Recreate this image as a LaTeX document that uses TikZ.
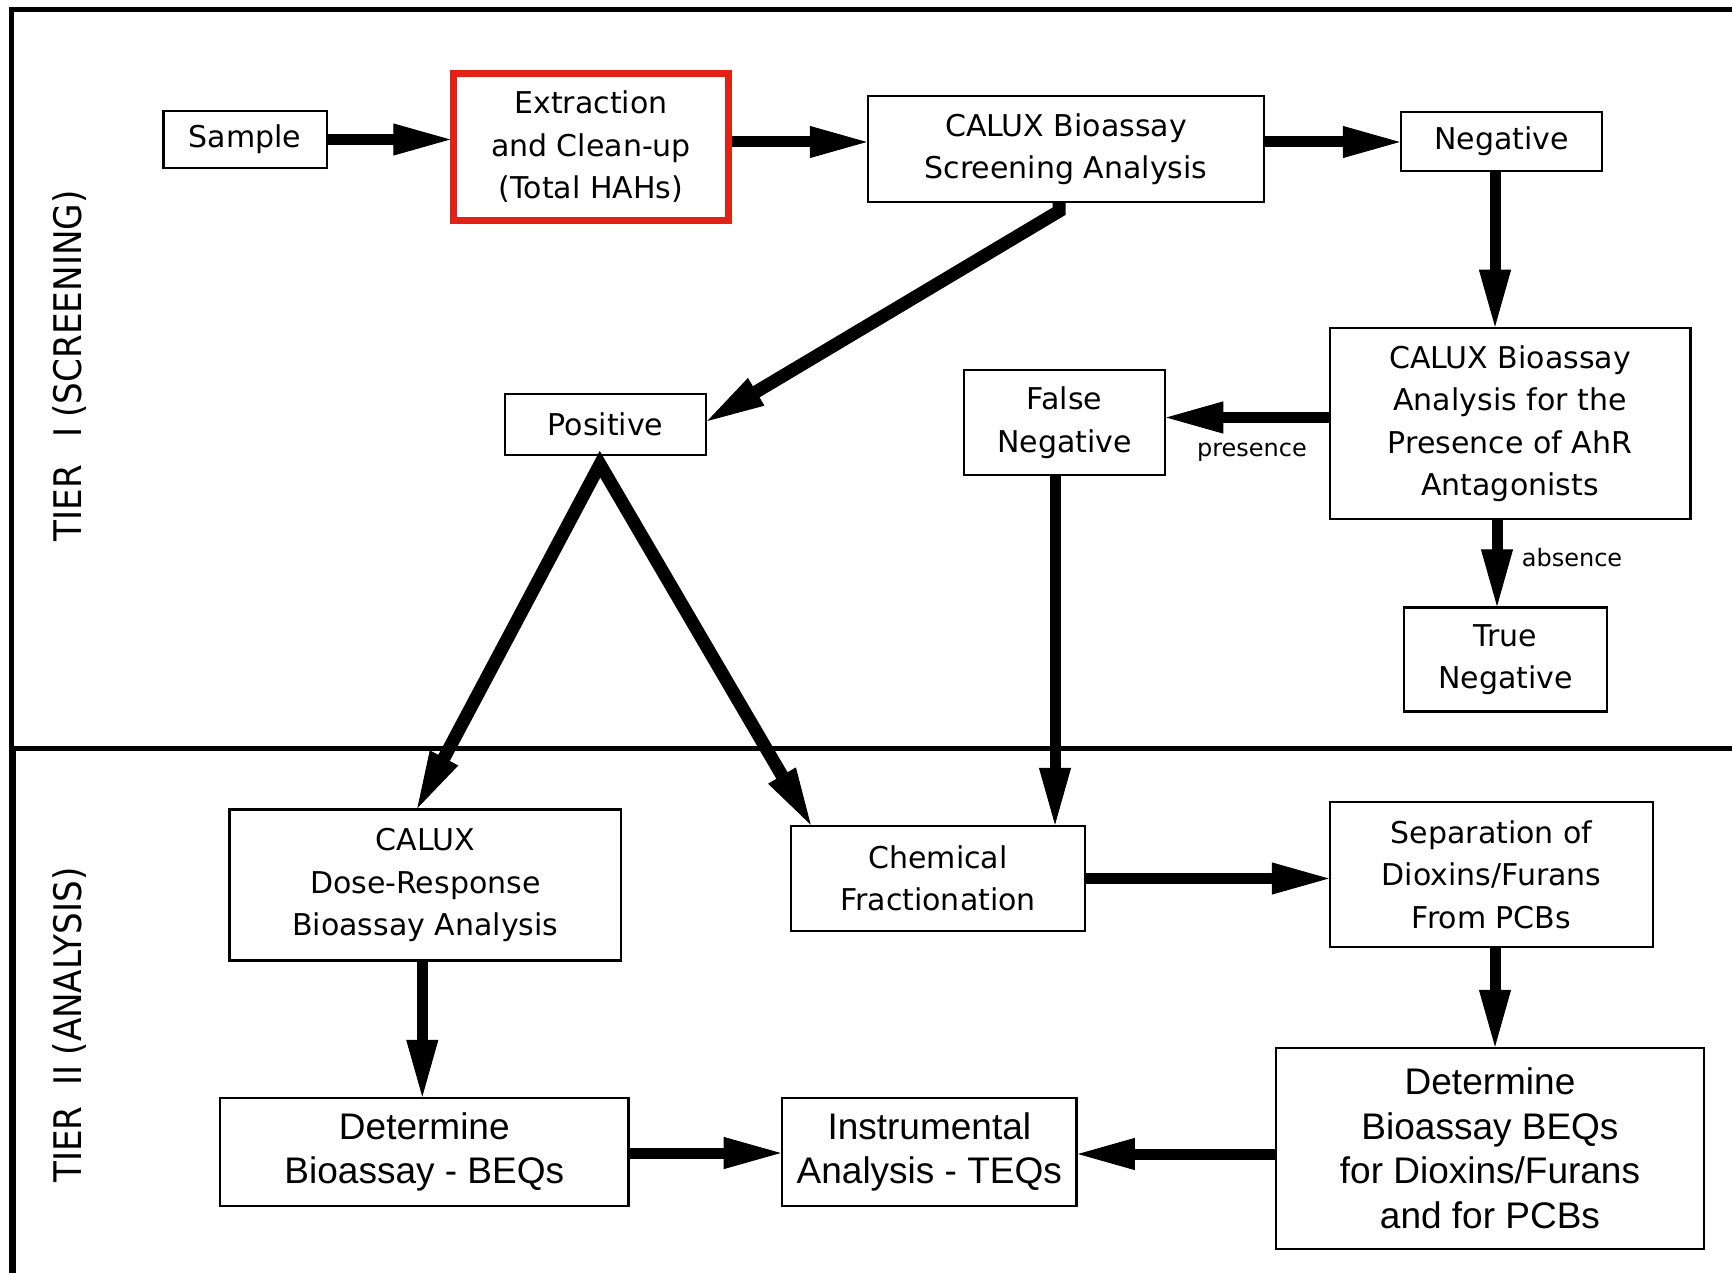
\documentclass[tikz,border=0pt]{standalone}
\usepackage{fontspec}
\setmainfont{DejaVu Sans}
\newfontfamily\hv{Liberation Sans}
\usetikzlibrary{arrows.meta,calc}
\definecolor{extred}{RGB}{225,34,20}
\begin{document}
\begin{tikzpicture}[x=1pt,y=-1pt,
  box/.style={draw, line width=2.5pt, align=center, inner sep=0pt, font=\fontsize{30}{42.5}\selectfont},
  hbox/.style={box, font=\hv\fontsize{37}{44.5}\selectfont},
  arr/.style={line width=11pt, -{Triangle[length=57pt,width=32pt,line width=1pt]}},
  darr/.style={line width=13pt, line join=miter, -{Triangle[length=57pt,width=32pt,line width=1pt]}},
  lbl/.style={font=\fontsize{24}{28}\selectfont, inner sep=0pt},
  tier/.style={rotate=90, inner sep=0pt, font=\fontsize{38}{40}\selectfont},
  frame/.style={line width=5pt}
]
\useasboundingbox (0,0) rectangle (1732,1273);
\clip (0,0) rectangle (1732,1273);

% frame
\draw[frame] (11,1290) -- (11,9.5) -- (1750,9.5);
\draw[frame] (9,748) -- (1750,748);
\draw[frame] (13,748) -- (13,1290);

% tier labels
\node[tier] (tier1) at (70,366) {\scalebox{0.9}[1]{TIER\hspace{0.8em}I\hspace{0.3em}(SCREENING)}};
\node[tier] (tier2) at (70,1025) {\scalebox{0.9}[1]{TIER\hspace{0.6em}II\hspace{0.3em}(ANALYSIS)}};

% nodes
\node[box, minimum width=163.5pt, minimum height=57pt] (sample) at (245,139.5) {Sample};
\node[box, draw=extred, line width=7pt, minimum width=274.5pt, minimum height=147pt] (ext) at (591,147) {Extraction\\and Clean-up\\(Total HAHs)};
\node[box, minimum width=396pt, minimum height=106pt] (scr) at (1066,149) {CALUX Bioassay\\Screening Analysis};
\node[box, minimum width=201pt, minimum height=59pt] (neg) at (1501.5,141.5) {Negative};
\node[box, minimum width=360.5pt, minimum height=191pt] (ahr) at (1510,423.5) {CALUX Bioassay\\Analysis for the\\Presence of AhR\\Antagonists};
\node[box, minimum width=201pt, minimum height=105pt] (fn) at (1064.5,422.5) {False\\Negative};
\node[box, minimum width=201pt, minimum height=61pt] (pos) at (605.5,424.5) {Positive};
\node[box, minimum width=203pt, minimum height=104pt] (tn) at (1505.5,659.5) {True\\Negative};
\node[box, minimum width=391.4pt, minimum height=151pt] (dose) at (425.3,885) {CALUX\\Dose-Response\\Bioassay Analysis};
\node[box, minimum width=294pt, minimum height=105pt] (chem) at (938,878.5) {Chemical\\Fractionation};
\node[box, minimum width=323pt, minimum height=145pt] (sep) at (1491.5,874.5) {Separation of\\Dioxins/Furans\\From PCBs};
\node[hbox, minimum width=408.6pt, minimum height=108pt] (det) at (424.3,1152) {Determine\\Bioassay - BEQs};
\node[hbox, minimum width=294.7pt, minimum height=108pt] (instr) at (929.3,1152) {Instrumental\\Analysis - TEQs};
\node[hbox, minimum width=428pt, minimum height=201pt] (detb) at (1490,1148.5) {Determine\\Bioassay BEQs\\for Dioxins/Furans\\and for PCBs};

% labels
\node[lbl] (lpres) at (1252,452) {presence};
\node[lbl] (labs) at (1572,558) {absence};

% connectors
\draw[arr] (sample.east) -- (sample.east -| ext.west);
\draw[arr] ([yshift=5pt]ext.east) -- ([yshift=5pt]ext.east -| scr.west);
\draw[arr] ([yshift=7pt]scr.east) -- ([yshift=7pt]scr.east -| neg.west);
\draw[arr] ([xshift=-6.5pt]neg.south) -- ([xshift=-6.5pt]neg.south |- ahr.north);
\draw[arr] ([yshift=6pt]ahr.west) -- ([yshift=6pt]ahr.west -| fn.east);
\draw[arr] ([xshift=-13pt]ahr.south) -- ([xshift=-13pt]ahr.south |- tn.north);
\draw[darr] ([xshift=-7pt]scr.south) -- ++(0,8) -- ([yshift=3.5pt]pos.east);
\draw[line width=13pt, line join=miter, {Triangle[length=57pt,width=32pt,line width=1pt]}-{Triangle[length=57pt,width=32pt,line width=1pt]}]
  ([xshift=-8pt]dose.north) -- ([xshift=-5.5pt,yshift=-8pt]pos.south) -- ([xshift=21pt]chem.north west);
\draw[arr] ([xshift=-9.5pt]fn.south) -- ([xshift=-9.5pt]fn.south |- chem.north);
\draw[arr] (chem.east) -- (chem.east -| sep.west);
\draw[arr] ([xshift=3.5pt]sep.south) -- ([xshift=3.5pt]sep.south |- detb.north);
\draw[arr] ([yshift=-5.5pt]detb.west) -- ([yshift=-5.5pt]detb.west -| instr.east);
\draw[arr] ([xshift=-3pt]dose.south) -- ([xshift=-3pt]dose.south |- det.north);
\draw[arr] ([yshift=-1pt]det.east) -- ([yshift=-1pt]det.east -| instr.west);
\end{tikzpicture}
\end{document}
